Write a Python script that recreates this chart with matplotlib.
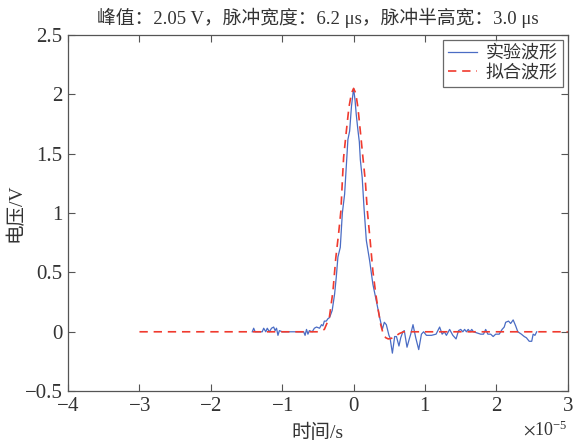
import numpy as np
import matplotlib
matplotlib.use("Agg")
import matplotlib.pyplot as plt
from matplotlib.ticker import ScalarFormatter

plt.rcParams['font.family'] = ['Liberation Serif', 'Noto Sans CJK SC']
plt.rcParams['mathtext.fontset'] = 'stix'
plt.rcParams['axes.unicode_minus'] = True

# measured waveform (time in microseconds, voltage in V)
t_exp = [-14.2, -14.0, -13.8, -12.8, -12.6, -12.3, -12.1, -11.8, -11.5, -11.2,
         -11.0, -10.8, -10.6, -10.4, -10.0, -7.0, -6.8, -6.6, -6.4, -6.2,
         -5.8, -5.5, -5.2, -4.77, -4.5, -4.3, -4.1, -3.83, -3.6, -3.37,
         -3.0, -2.66, -2.43, -2.2, -1.87, -1.58, -1.26, -0.8, -0.56, -0.3,
         0.0, 0.2, 0.37, 0.6, 0.8, 0.94, 1.2, 1.45, 1.78, 2.24,
         2.7, 3.18, 3.65, 4.02, 4.3, 4.58, 4.95, 5.1, 5.43, 5.75,
         6.0, 6.35, 6.6, 6.9, 7.1, 7.48, 7.8, 8.0, 8.32, 8.7,
         9.12, 9.5, 9.8, 10.2, 10.9, 11.55, 12.05, 12.4, 12.7, 13.0,
         13.45, 13.9, 14.35, 14.7, 15.0, 15.3, 15.55, 15.8, 16.05, 16.3,
         16.55, 16.8, 17.3, 17.8, 18.2, 18.5, 18.8, 19.2, 19.55, 19.9,
         20.4, 20.8, 21.1, 21.3, 21.7, 22.0, 22.35, 22.7, 23.0, 23.5,
         23.9, 24.2, 24.6, 24.95, 25.15, 25.4, 25.65]
v_exp = [0.0, 0.03, 0.0, 0.0, 0.03, 0.0, 0.03, 0.0, 0.03, 0.04,
         0.01, 0.03, -0.03, 0.01, 0.0, 0.0, -0.03, 0.02, -0.02, 0.01,
         0.0, 0.03, 0.04, 0.03, 0.06, 0.05, 0.09, 0.09, 0.11, 0.12,
         0.18, 0.32, 0.46, 0.63, 0.71, 1.0, 1.16, 1.62, 1.69, 1.9,
         2.05, 1.95, 1.83, 1.7, 1.6, 1.45, 1.3, 1.05, 0.77, 0.6,
         0.4, 0.26, 0.12, 0.02, 0.08, 0.06, -0.03, -0.05, -0.18, -0.04,
         -0.04, -0.12, -0.05, 0.0, 0.01, -0.13, -0.06, -0.02, 0.06, -0.05,
         -0.15, -0.02, 0.0, -0.03, -0.03, -0.02, 0.04, -0.02, 0.0, -0.03,
         0.02, -0.03, -0.06, 0.01, 0.02, 0.0, 0.02, 0.0, 0.02, 0.0,
         0.02, 0.0, -0.01, -0.02, -0.02, 0.02, -0.02, -0.02, -0.04, -0.02,
         -0.02, 0.02, 0.04, 0.08, 0.09, 0.07, 0.1, 0.05, 0.0, -0.02,
         -0.04, -0.05, -0.08, -0.08, -0.02, -0.03, 0.0]

# fitted waveform
t_fit = [-30.0, -5.0, -4.1, -3.4, -2.9, -2.5, -2.1, -1.78, -1.58, -1.4,
         -1.02, -0.66, -0.3, 0.0, 0.3, 0.6, 0.94, 1.3, 1.64, 1.92,
         2.3, 2.7, 3.1, 3.4, 3.8, 4.15, 4.5, 4.85, 5.3, 5.8,
         6.4, 7.0, 30.0]
v_fit = [0.0, 0.0, 0.02, 0.12, 0.34, 0.62, 0.83, 1.02, 1.27, 1.47,
         1.69, 1.89, 2.01, 2.05, 2.01, 1.89, 1.69, 1.47, 1.27, 1.02,
         0.78, 0.51, 0.32, 0.2, 0.06, -0.02, -0.05, -0.06, -0.055, -0.04,
         -0.015, 0.0, 0.0]

title = "峰值：2.05 V，脉冲宽度：6.2 μs，脉冲半高宽：3.0 μs"
txt = '#333333'

fig = plt.figure(figsize=(5.77, 4.46), dpi=100)
ax = fig.add_axes([0.118, 0.123, 0.866, 0.7985])

ax.plot(np.array(t_exp) * 1e-6, v_exp, color='#4a6cc4', lw=0.9, label='实验波形')
ax.plot(np.array(t_fit) * 1e-6, v_fit, color='#f03a2e', lw=1.2,
        dashes=(5, 3.5), label='拟合波形')

ax.set_xlim(-4e-5, 3e-5)
ax.set_ylim(-0.5, 2.5)
ax.set_xticks(np.arange(-4, 4) * 1e-5)
ax.set_yticks([-0.5, 0, 0.5, 1, 1.5, 2, 2.5])
ax.set_yticklabels(['−0.5', '0', '0.5', '1', '1.5', '2', '2.5'])

fmt = ScalarFormatter(useMathText=True)
fmt.set_powerlimits((0, 0))
ax.xaxis.set_major_formatter(fmt)
ax.xaxis.get_offset_text().set_fontsize(13)
ax.xaxis.get_offset_text().set_color(txt)

ax.tick_params(direction='in', top=True, right=True, length=5, width=0.8,
               labelsize=15, colors='#555555', labelcolor=txt, pad=4)
for sp in ax.spines.values():
    sp.set_color('#555555')
    sp.set_linewidth(0.9)

ax.set_xlabel('时间/s', fontsize=14, color=txt, labelpad=6)
ax.set_ylabel('电压/V', fontsize=14, color=txt, labelpad=0)
ax.set_title(title, fontsize=13.5, color=txt, pad=8)

leg = ax.legend(loc='upper right', fontsize=13, handlelength=1.6,
                borderaxespad=0.25, frameon=True, fancybox=False,
                borderpad=0.3, labelspacing=0.15, handletextpad=0.5)
leg.get_frame().set_edgecolor('#444444')
leg.get_frame().set_linewidth(0.9)
for t in leg.get_texts():
    t.set_color(txt)

fig.savefig('out.png', dpi=100)
